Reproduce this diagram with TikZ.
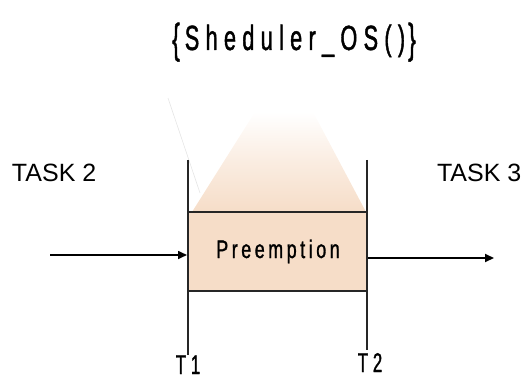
\documentclass[tikz,border=0pt]{standalone}
\usepackage{fontspec}
\usepackage{graphicx}
\setmainfont{Liberation Sans}
\newfontfamily\narrowfont[FakeStretch=0.62,LetterSpace=18,FakeBold=1.2]{Liberation Sans}
\newfontfamily\midfont[FakeStretch=0.7,LetterSpace=14,FakeBold=1.2]{Liberation Sans}
\newcommand{\tallbrace}[1]{\raisebox{-3pt}{\scalebox{1.05}[1.2]{#1}}}
\usetikzlibrary{arrows.meta}
\definecolor{peach}{RGB}{246,221,200}
\begin{document}
\begin{tikzpicture}[x=1pt,y=-1pt,
  lbl/.style={inner sep=0pt,outer sep=0pt},
  task/.style={lbl,font=\fontsize{25}{25}\selectfont},
  vline/.style={line width=1.2pt,draw=black!85},
  arr/.style={line width=1.6pt,-{Triangle[length=9pt,width=8pt]}}]
\useasboundingbox (0,0) rectangle (526,379);
% gradient trapezoid
\shade[top color=white,bottom color=peach,middle color=peach!55]
  (192,212) -- (255,112) -- (313,112) -- (366,212) -- cycle;
\draw[black!10,line width=0.6pt] (168,98) -- (200,193);
% rectangle
\fill[peach] (188,212) rectangle (367,291);
\coordinate (t1top) at (188,160);
\coordinate (t1bot) at (188,355);
\coordinate (t2top) at (367,160);
\coordinate (t2bot) at (367,350);
\draw[vline] (t1top) -- (t1bot);
\draw[vline] (t2top) -- (t2bot);
\draw[vline] (188,212) -- (367,212);
\draw[vline] (188,291) -- (367,291);
% texts
\node[lbl,anchor=base,font=\narrowfont\fontsize{35}{35}\selectfont] (title) at (294,50) {\tallbrace{\{}\hspace{5pt}Sheduler\_OS()\hspace{3pt}\tallbrace{\}}};
\node[task,anchor=base west] (task2) at (12,182) {TASK 2};
\node[task,anchor=base west] (task3) at (437,182) {TASK 3};
\node[lbl,anchor=base,font=\midfont\fontsize{25.5}{25.5}\selectfont] (pre) at (278,258) {Preemption};
\node[lbl,anchor=base,font=\narrowfont\fontsize{27}{27}\selectfont] (T1) at (188,374) {T1};
\node[lbl,anchor=base,font=\narrowfont\fontsize{27}{27}\selectfont] (T2) at (370,372) {T2};
% arrows
\coordinate (ain) at (50,255);
\coordinate (ainend) at (187,255);
\coordinate (aout) at (368,258);
\coordinate (aoutend) at (494,258);
\draw[arr] (ain) -- (ainend);
\draw[arr,line width=2pt] (aout) -- (aoutend);
\end{tikzpicture}
\end{document}
